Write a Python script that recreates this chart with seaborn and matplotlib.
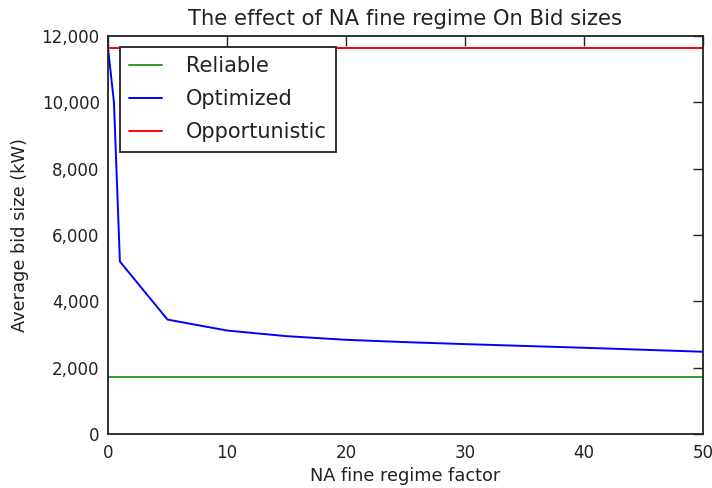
import matplotlib
matplotlib.use("Agg")
import matplotlib.pyplot as plt
import matplotlib.ticker as mticker
import seaborn as sns
import pandas as pd

factor = [0, 0.5, 1, 5, 10, 15, 20, 25, 30, 40, 50]
optimized = [11640, 10000, 5200, 3450, 3120, 2950, 2840, 2770, 2710, 2600, 2480]
reliable_val = 1720
opportunistic_val = 11640

x_range = [0, 50]

df = pd.concat([
    pd.DataFrame({"factor": x_range, "size": [reliable_val] * 2, "strategy": "Reliable"}),
    pd.DataFrame({"factor": factor, "size": optimized, "strategy": "Optimized"}),
    pd.DataFrame({"factor": x_range, "size": [opportunistic_val] * 2, "strategy": "Opportunistic"}),
])

sns.set_style("white")
plt.rcParams["font.family"] = ["DejaVu Sans"]
plt.rcParams["text.color"] = "#222222"
plt.rcParams["axes.labelcolor"] = "#222222"

fig = plt.figure(figsize=(7.12, 4.88), dpi=100)
ax = fig.add_axes([108 / 712, 1 - 434 / 488, 595 / 712, 398 / 488])

palette = {"Reliable": "#2ca02c", "Optimized": "#0000ff", "Opportunistic": "#ff0000"}
sns.lineplot(data=df, x="factor", y="size", hue="strategy", palette=palette,
             ax=ax, linewidth=1.4, sort=False, estimator=None)

ax.set_xlim(0, 50)
ax.set_ylim(0, 12000)
ax.xaxis.set_major_locator(mticker.MultipleLocator(10))
ax.yaxis.set_major_locator(mticker.MultipleLocator(2000))
ax.yaxis.set_major_formatter(mticker.FuncFormatter(lambda v, p: f"{int(v):,}"))
ax.tick_params(direction="in", length=7, width=1, top=True, right=True,
               labelsize=12, colors="#222222", pad=6)
ax.tick_params(axis="x", pad=7)
for s in ax.spines.values():
    s.set_color("#222222")
    s.set_linewidth(1.3)

ax.set_title("The effect of NA fine regime On Bid sizes", fontsize=15.2, pad=8)
ax.set_xlabel("NA fine regime factor", fontsize=12.8)
ax.set_ylabel("Average bid size (kW)", fontsize=12.8, labelpad=9)

leg = ax.legend(loc="upper left", fontsize=15, frameon=True, fancybox=False,
                handlelength=1.55, handletextpad=1.15, borderpad=0.45,
                labelspacing=0.62, borderaxespad=0,
                bbox_to_anchor=(12 / 595, 1 - 11 / 398))
leg.get_frame().set_edgecolor("#222222")
leg.get_frame().set_linewidth(1.3)
leg.get_frame().set_alpha(1)

fig.savefig("out.png", dpi=100)
